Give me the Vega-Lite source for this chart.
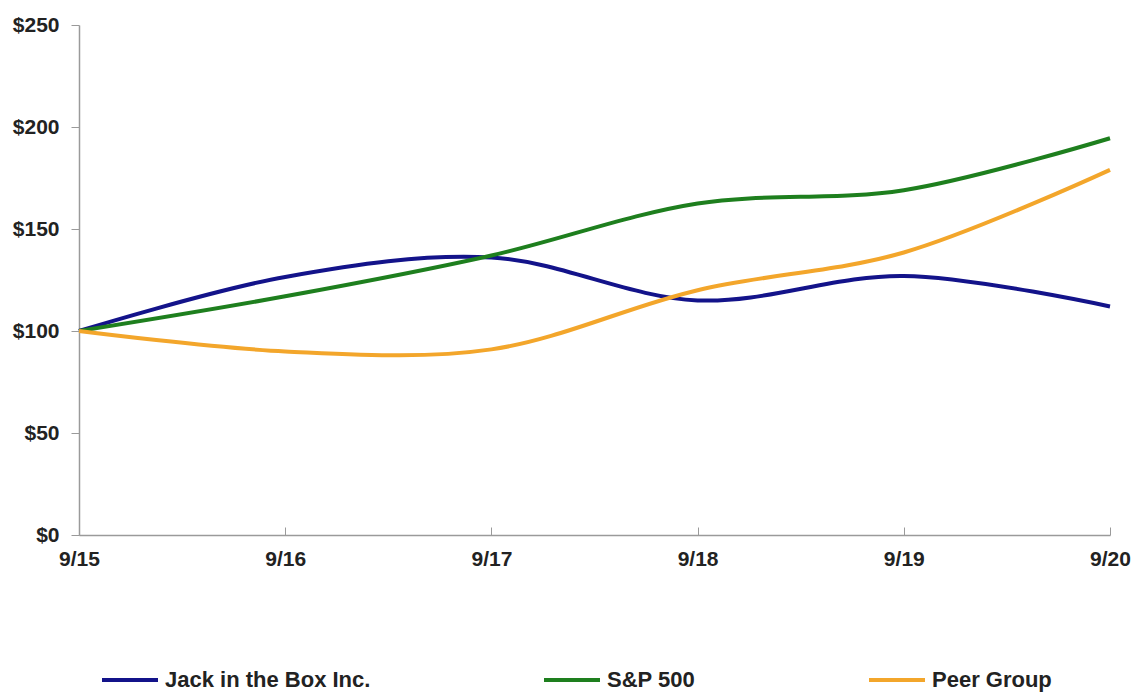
{
  "$schema": "https://vega.github.io/schema/vega-lite/v6.json",
  "autosize": {"type": "none"},
  "padding": {"left": 79, "top": 25, "right": 22, "bottom": 159},
  "width": 1031,
  "height": 510,
  "background": "white",
  "config": {
    "view": {"stroke": null},
    "font": "Liberation Sans"
  },
  "data": {
    "values": [
      {"date": "9/15", "series": "Jack in the Box Inc.", "value": 100},
      {"date": "9/16", "series": "Jack in the Box Inc.", "value": 126.5},
      {"date": "9/17", "series": "Jack in the Box Inc.", "value": 136},
      {"date": "9/18", "series": "Jack in the Box Inc.", "value": 115},
      {"date": "9/19", "series": "Jack in the Box Inc.", "value": 127},
      {"date": "9/20", "series": "Jack in the Box Inc.", "value": 112},
      {"date": "9/15", "series": "S&P 500", "value": 100},
      {"date": "9/16", "series": "S&P 500", "value": 117},
      {"date": "9/17", "series": "S&P 500", "value": 137},
      {"date": "9/18", "series": "S&P 500", "value": 162.5},
      {"date": "9/19", "series": "S&P 500", "value": 169},
      {"date": "9/20", "series": "S&P 500", "value": 194.5},
      {"date": "9/15", "series": "Peer Group", "value": 100},
      {"date": "9/16", "series": "Peer Group", "value": 90},
      {"date": "9/17", "series": "Peer Group", "value": 91},
      {"date": "9/18", "series": "Peer Group", "value": 120},
      {"date": "9/19", "series": "Peer Group", "value": 138.5},
      {"date": "9/20", "series": "Peer Group", "value": 179}
    ]
  },
  "mark": {"type": "line", "interpolate": "catmull-rom", "strokeWidth": 4},
  "encoding": {
    "x": {
      "field": "date",
      "type": "ordinal",
      "sort": null,
      "scale": {"type": "point", "padding": 0},
      "axis": {
        "title": null,
        "labelAngle": 0,
        "labelFont": "Liberation Sans",
        "labelFontWeight": "bold",
        "labelFontSize": 21,
        "labelColor": "#222222",
        "labelPadding": 21,
        "tickSize": -8,
        "tickColor": "#9a9a9a",
        "domainColor": "#9a9a9a",
        "domainWidth": 1.5,
        "grid": false
      }
    },
    "y": {
      "field": "value",
      "type": "quantitative",
      "scale": {"domain": [0, 250], "nice": false},
      "axis": {
        "title": null,
        "values": [0, 50, 100, 150, 200, 250],
        "labelExpr": "'$' + datum.value",
        "labelFont": "Liberation Sans",
        "labelFontWeight": "bold",
        "labelFontSize": 21,
        "labelColor": "#222222",
        "labelPadding": 12,
        "tickSize": 8,
        "tickColor": "#9a9a9a",
        "domainColor": "#9a9a9a",
        "domainWidth": 1.5,
        "grid": false
      }
    },
    "color": {
      "field": "series",
      "type": "nominal",
      "scale": {
        "domain": ["Jack in the Box Inc.", "S&P 500", "Peer Group"],
        "range": ["#13138a", "#1e7f1e", "#f3a62b"]
      },
      "legend": {
        "title": null,
        "orient": "none",
        "direction": "horizontal",
        "legendX": 21,
        "legendY": 625,
        "padding": 0,
        "symbolType": "stroke",
        "symbolSize": 3136,
        "symbolStrokeWidth": 4,
        "labelOffset": 5,
        "labelFont": "Liberation Sans",
        "labelFontWeight": "bold",
        "labelFontSize": 22,
        "labelColor": "#222222",
        "labelLimit": 400,
        "columnPadding": 165
      }
    }
  }
}
